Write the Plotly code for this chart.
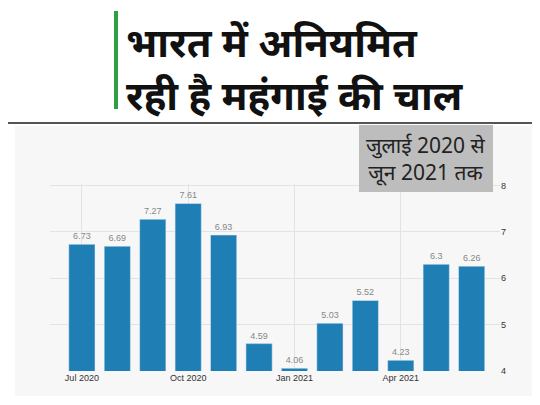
import plotly.graph_objects as go

months = ["Jul 2020","Aug 2020","Sep 2020","Oct 2020","Nov 2020","Dec 2020",
          "Jan 2021","Feb 2021","Mar 2021","Apr 2021","May 2021","Jun 2021"]
values = [6.73, 6.69, 7.27, 7.61, 6.93, 4.59, 4.06, 5.03, 5.52, 4.23, 6.3, 6.26]
tick_labels = ["Jul 2020", "Oct 2020", "Jan 2021", "Apr 2021"]
y_ticks = [4, 5, 6, 7, 8]

T, B = 176, 42
H = 405 - T - B
def py(p):  # pixel y (reference) -> paper y
    return 1.0 + (T - (p - 7)) / H

x = list(range(len(months)))
fig = go.Figure(go.Bar(
    x=x, y=values, marker_color="#1f7fb5", width=0.74,
    text=[f"{v:g}" for v in values], textposition="outside",
    textfont=dict(size=9, color="#888888", family="Liberation Sans"),
    cliponaxis=False,
))
fig.update_layout(
    width=540, height=405, margin=dict(l=42, r=48, t=T, b=B),
    paper_bgcolor="white", plot_bgcolor="#f7f7f7", showlegend=False,
    xaxis=dict(range=[-0.9, 11.8], tickvals=[0, 3, 6, 9], ticktext=tick_labels,
               showgrid=True, gridcolor="#e3e3e3",
               tickfont=dict(size=9, color="#333", family="Liberation Sans")),
    yaxis=dict(range=[4, 8.03], side="right", tickvals=y_ticks, showgrid=True,
               gridcolor="#e3e3e3", zeroline=False,
               tickfont=dict(size=9, color="#333", family="Liberation Sans")),
    font=dict(family="Noto Sans"),
    shapes=[
        dict(type="rect", xref="paper", yref="paper", x0=-0.078, x1=1.089,
             y0=py(395), y1=py(125), layer="below", fillcolor="#f7f7f7", line_width=0),
        dict(type="line", xref="paper", yref="paper", x0=-0.1, x1=1.12,
             y0=py(122), y1=py(122), line=dict(color="#555", width=2)),
        dict(type="line", xref="paper", yref="paper", x0=(108-42)/450, x1=(108-42)/450,
             y0=py(108), y1=py(10), line=dict(color="#2ea043", width=4)),
        dict(type="rect", xref="paper", yref="paper", x0=(351-42)/450, x1=(485-42)/450,
             y0=py(191), y1=py(124), fillcolor="#bdbdbd", line_width=0),
    ],
    annotations=[
        dict(text="<b>भारत में अनियमित</b>", xref="paper", yref="paper",
             x=(116-42)/450, y=py(40), xanchor="left", yanchor="middle",
             showarrow=False, font=dict(size=40, color="#111")),
        dict(text="<b>रही है महंगाई की चाल</b>", xref="paper", yref="paper",
             x=(116-42)/450, y=py(93), xanchor="left", yanchor="middle",
             showarrow=False, font=dict(size=40, color="#111")),
        dict(text="जुलाई 2020 से<br>जून 2021 तक", xref="paper", yref="paper",
             x=(418-42)/450, y=py(158), xanchor="center", yanchor="middle",
             showarrow=False, font=dict(size=21, color="#222")),
    ],
)
fig.write_html("out.html")
